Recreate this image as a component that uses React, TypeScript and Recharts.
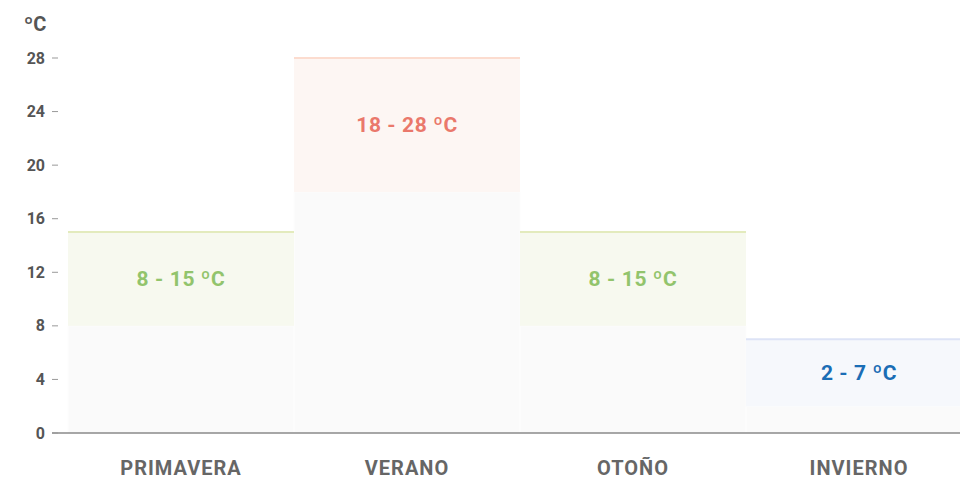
import React from "react";
import { BarChart, Bar, XAxis, YAxis, Cell, Label } from "recharts";

// temperaturas por estación (mín - máx)
const estaciones = ["PRIMAVERA", "VERANO", "OTOÑO", "INVIERNO"];
const minimas = [8, 18, 8, 2];
const maximas = [15, 28, 15, 7];
const etiquetas = ["8 - 15 ºC", "18 - 28 ºC", "8 - 15 ºC", "2 - 7 ºC"];
const ticksY = [0, 4, 8, 12, 16, 20, 24, 28];

const colores = [
  { fondo: "#f7f9ef", borde: "#e3ebbd", texto: "#92c46c" },
  { fondo: "#fdf6f3", borde: "#fcdccf", texto: "#ea786b" },
  { fondo: "#f7f9ef", borde: "#e3ebbd", texto: "#92c46c" },
  { fondo: "#f6f8fc", borde: "#dde3f6", texto: "#1a6db5" },
];

const datos = estaciones.map((nombre, i) => ({
  nombre,
  min: minimas[i],
  rango: maximas[i] - minimas[i],
  etiqueta: etiquetas[i],
}));

const FUENTE = "Roboto, 'DejaVu Sans', sans-serif";

const TramoSuperior = (props: any) => {
  const { x, y, width, height, index } = props;
  const c = colores[index];
  return (
    <g>
      <rect x={x} y={y} width={width} height={height} fill={c.fondo} />
      <line x1={x} x2={x + width} y1={y} y2={y} stroke={c.borde} strokeWidth={2} />
      <text
        x={x + width / 2}
        y={y + height / 2}
        textAnchor="middle"
        dominantBaseline="central"
        fill={c.texto}
        fontFamily={FUENTE}
        fontWeight={700}
        fontSize={21}
        letterSpacing={0.6}
      >
        {datos[index].etiqueta}
      </text>
    </g>
  );
};

const TickY = (props: any) => {
  const { x, y, payload } = props;
  return (
    <g>
      <text
        x={x + 1}
        y={y}
        textAnchor="end"
        dominantBaseline="central"
        fill="#555"
        fontFamily={FUENTE}
        fontWeight={700}
        fontSize={16}
      >
        {payload.value}
      </text>
      <line x1={x + 8} x2={x + 14} y1={y} y2={y} stroke="#999" strokeWidth={1} />
    </g>
  );
};

const TickX = (props: any) => {
  const { x, y, payload } = props;
  return (
    <text
      x={x}
      y={y + 27}
      textAnchor="middle"
      dominantBaseline="central"
      fill="#666"
      fontFamily={FUENTE}
      fontWeight={700}
      fontSize={20}
      letterSpacing={1}
    >
      {payload.value}
    </text>
  );
};

export default function App() {
  return (
    <div style={{ width: 960, height: 479, overflow: "hidden", boxSizing: "border-box", padding: "8px 0 0 8px" }}>
      <style>{"body{margin:0}"}</style>
      <BarChart
        width={964}
        height={471}
        data={datos}
        barCategoryGap={0}
        margin={{ top: 50, right: 0, bottom: 0, left: 0 }}
      >
        <XAxis
          dataKey="nombre"
          height={46}
          padding={{ left: 16, right: 0 }}
          tickLine={false}
          axisLine={{ stroke: "#8a8a8a", strokeWidth: 1.5 }}
          tick={<TickX />}
          interval={0}
        />
        <YAxis
          width={44}
          domain={[0, 28]}
          ticks={ticksY}
          axisLine={false}
          tickLine={false}
          tick={<TickY />}
        >
          <Label
            content={(p: any) => (
              <text
                x={p.viewBox.x + 16}
                y={p.viewBox.y - 34}
                fill="#555"
                fontFamily={FUENTE}
                fontWeight={700}
                fontSize={20}
                dominantBaseline="central"
              >
                ºC
              </text>
            )}
          />
        </YAxis>
        <Bar dataKey="min" stackId="t" fill="#fafafa" stroke="#fdfdfd" strokeWidth={1} isAnimationActive={false} />
        <Bar dataKey="rango" stackId="t" shape={<TramoSuperior />} isAnimationActive={false}>
          {datos.map((d, i) => (
            <Cell key={d.nombre} fill={colores[i].fondo} />
          ))}
        </Bar>
      </BarChart>
    </div>
  );
}
